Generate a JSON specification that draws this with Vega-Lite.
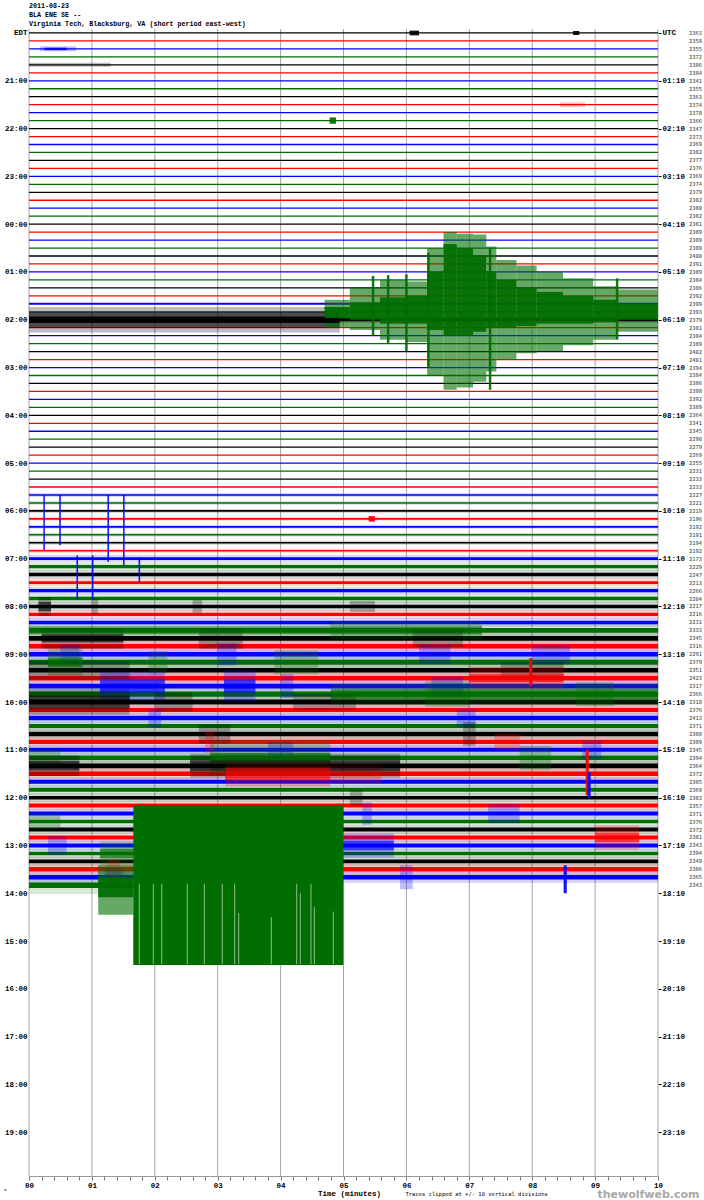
{
"$schema": "https://vega.github.io/schema/vega-lite/v6.json",
"width": 629, "height": 1147,
"autosize": {"type": "none"},
"padding": {"left": 29, "top": 29, "right": 46, "bottom": 24},
"background": "white",
"config": {"view": {"stroke": null}},
"title": {"text": ["2011-08-23", "BLA ENE SE --", "Virginia Tech, Blacksburg, VA (short period east-west)"], "anchor": "start", "frame": "group", "font": "Liberation Mono", "fontSize": 6.7, "fontWeight": "bold", "lineHeight": 9, "offset": 1, "color": "#000000"},
"datasets": {
"mins": [{"m":0},{"m":1},{"m":2},{"m":3},{"m":4},{"m":5},{"m":6},{"m":7},{"m":8},{"m":9},{"m":10}],
"traces": [
{"r":0,"n":"2363","c":"k","s":0,"e":10,"a0":-0.08,"a1":0.08},
{"r":1,"n":"2358","c":"r","s":0,"e":10,"a0":0.92,"a1":1.08},
{"r":2,"n":"2355","c":"b","s":0,"e":10,"a0":1.92,"a1":2.08},
{"r":3,"n":"2372","c":"g","s":0,"e":10,"a0":2.92,"a1":3.08},
{"r":4,"n":"2386","c":"k","s":0,"e":10,"a0":3.92,"a1":4.08},
{"r":5,"n":"2384","c":"r","s":0,"e":10,"a0":4.92,"a1":5.08},
{"r":6,"n":"2341","c":"b","s":0,"e":10,"a0":5.92,"a1":6.08},
{"r":7,"n":"2355","c":"g","s":0,"e":10,"a0":6.92,"a1":7.08},
{"r":8,"n":"2363","c":"k","s":0,"e":10,"a0":7.92,"a1":8.08},
{"r":9,"n":"2374","c":"r","s":0,"e":10,"a0":8.92,"a1":9.08},
{"r":10,"n":"2378","c":"b","s":0,"e":10,"a0":9.92,"a1":10.08},
{"r":11,"n":"2366","c":"g","s":0,"e":10,"a0":10.92,"a1":11.08},
{"r":12,"n":"2347","c":"k","s":0,"e":10,"a0":11.92,"a1":12.08},
{"r":13,"n":"2373","c":"r","s":0,"e":10,"a0":12.92,"a1":13.08},
{"r":14,"n":"2369","c":"b","s":0,"e":10,"a0":13.92,"a1":14.08},
{"r":15,"n":"2382","c":"g","s":0,"e":10,"a0":14.92,"a1":15.08},
{"r":16,"n":"2377","c":"k","s":0,"e":10,"a0":15.92,"a1":16.08},
{"r":17,"n":"2376","c":"r","s":0,"e":10,"a0":16.92,"a1":17.08},
{"r":18,"n":"2369","c":"b","s":0,"e":10,"a0":17.92,"a1":18.08},
{"r":19,"n":"2374","c":"g","s":0,"e":10,"a0":18.92,"a1":19.08},
{"r":20,"n":"2379","c":"k","s":0,"e":10,"a0":19.92,"a1":20.08},
{"r":21,"n":"2382","c":"r","s":0,"e":10,"a0":20.92,"a1":21.08},
{"r":22,"n":"2380","c":"b","s":0,"e":10,"a0":21.92,"a1":22.08},
{"r":23,"n":"2382","c":"g","s":0,"e":10,"a0":22.92,"a1":23.08},
{"r":24,"n":"2381","c":"k","s":0,"e":10,"a0":23.92,"a1":24.08},
{"r":25,"n":"2389","c":"r","s":0,"e":10,"a0":24.92,"a1":25.08},
{"r":26,"n":"2389","c":"b","s":0,"e":10,"a0":25.92,"a1":26.08},
{"r":27,"n":"2389","c":"g","s":0,"e":10,"a0":26.92,"a1":27.08},
{"r":28,"n":"2400","c":"k","s":0,"e":10,"a0":27.92,"a1":28.08},
{"r":29,"n":"2391","c":"r","s":0,"e":10,"a0":28.92,"a1":29.08},
{"r":30,"n":"2389","c":"b","s":0,"e":10,"a0":29.92,"a1":30.08},
{"r":31,"n":"2384","c":"g","s":0,"e":10,"a0":30.92,"a1":31.08},
{"r":32,"n":"2386","c":"k","s":0,"e":10,"a0":31.92,"a1":32.08},
{"r":33,"n":"2392","c":"r","s":0,"e":10,"a0":32.92,"a1":33.08},
{"r":34,"n":"2399","c":"b","s":0,"e":10,"a0":33.88,"a1":34.12},
{"r":35,"n":"2393","c":"g","s":0,"e":10,"a0":34.92,"a1":35.08},
{"r":36,"n":"2379","c":"k","s":0,"e":10,"a0":35.85,"a1":36.15},
{"r":37,"n":"2381","c":"r","s":0,"e":10,"a0":36.92,"a1":37.08},
{"r":38,"n":"2384","c":"b","s":0,"e":10,"a0":37.92,"a1":38.08},
{"r":39,"n":"2389","c":"g","s":0,"e":10,"a0":38.92,"a1":39.08},
{"r":40,"n":"2402","c":"k","s":0,"e":10,"a0":39.92,"a1":40.08},
{"r":41,"n":"2401","c":"r","s":0,"e":10,"a0":40.92,"a1":41.08},
{"r":42,"n":"2394","c":"b","s":0,"e":10,"a0":41.92,"a1":42.08},
{"r":43,"n":"2384","c":"g","s":0,"e":10,"a0":42.92,"a1":43.08},
{"r":44,"n":"2386","c":"k","s":0,"e":10,"a0":43.92,"a1":44.08},
{"r":45,"n":"2398","c":"r","s":0,"e":10,"a0":44.92,"a1":45.08},
{"r":46,"n":"2392","c":"b","s":0,"e":10,"a0":45.92,"a1":46.08},
{"r":47,"n":"2389","c":"g","s":0,"e":10,"a0":46.92,"a1":47.08},
{"r":48,"n":"2364","c":"k","s":0,"e":10,"a0":47.92,"a1":48.08},
{"r":49,"n":"2341","c":"r","s":0,"e":10,"a0":48.92,"a1":49.08},
{"r":50,"n":"2345","c":"b","s":0,"e":10,"a0":49.92,"a1":50.08},
{"r":51,"n":"2290","c":"g","s":0,"e":10,"a0":50.92,"a1":51.08},
{"r":52,"n":"2279","c":"k","s":0,"e":10,"a0":51.92,"a1":52.08},
{"r":53,"n":"2269","c":"r","s":0,"e":10,"a0":52.92,"a1":53.08},
{"r":54,"n":"2255","c":"b","s":0,"e":10,"a0":53.92,"a1":54.08},
{"r":55,"n":"2231","c":"g","s":0,"e":10,"a0":54.92,"a1":55.08},
{"r":56,"n":"2233","c":"k","s":0,"e":10,"a0":55.92,"a1":56.08},
{"r":57,"n":"2233","c":"r","s":0,"e":10,"a0":56.92,"a1":57.08},
{"r":58,"n":"2227","c":"b","s":0,"e":10,"a0":57.9,"a1":58.1,"h0":57.75,"h1":58.25},
{"r":59,"n":"2221","c":"g","s":0,"e":10,"a0":58.9,"a1":59.1,"h0":58.75,"h1":59.25},
{"r":60,"n":"2219","c":"k","s":0,"e":10,"a0":59.9,"a1":60.1,"h0":59.75,"h1":60.25},
{"r":61,"n":"2196","c":"r","s":0,"e":10,"a0":60.9,"a1":61.1,"h0":60.75,"h1":61.25},
{"r":62,"n":"2192","c":"b","s":0,"e":10,"a0":61.9,"a1":62.1,"h0":61.75,"h1":62.25},
{"r":63,"n":"2191","c":"g","s":0,"e":10,"a0":62.9,"a1":63.1,"h0":62.75,"h1":63.25},
{"r":64,"n":"2194","c":"k","s":0,"e":10,"a0":63.9,"a1":64.1,"h0":63.75,"h1":64.25},
{"r":65,"n":"2192","c":"r","s":0,"e":10,"a0":64.9,"a1":65.1,"h0":64.75,"h1":65.25},
{"r":66,"n":"2173","c":"b","s":0,"e":10,"a0":65.82,"a1":66.18,"h0":65.55,"h1":66.45},
{"r":67,"n":"2229","c":"g","s":0,"e":10,"a0":66.8,"a1":67.2,"h0":66.5,"h1":67.5},
{"r":68,"n":"2247","c":"k","s":0,"e":10,"a0":67.78,"a1":68.22,"h0":67.45,"h1":68.55},
{"r":69,"n":"2213","c":"r","s":0,"e":10,"a0":68.82,"a1":69.18,"h0":68.55,"h1":69.45},
{"r":70,"n":"2266","c":"b","s":0,"e":10,"a0":69.8,"a1":70.2,"h0":69.55,"h1":70.45},
{"r":71,"n":"2204","c":"g","s":0,"e":10,"a0":70.78,"a1":71.22,"h0":70.45,"h1":71.55},
{"r":72,"n":"2217","c":"k","s":0,"e":10,"a0":71.78,"a1":72.22,"h0":71.4,"h1":72.6},
{"r":73,"n":"2216","c":"r","s":0,"e":10,"a0":72.8,"a1":73.2,"h0":72.5,"h1":73.5},
{"r":74,"n":"2231","c":"b","s":0,"e":10,"a0":73.78,"a1":74.22,"h0":73.45,"h1":74.55},
{"r":75,"n":"2333","c":"g","s":0,"e":10,"a0":74.7,"a1":75.3,"h0":74.1,"h1":75.9},
{"r":76,"n":"2345","c":"k","s":0,"e":10,"a0":75.7,"a1":76.3,"h0":75.1,"h1":76.9},
{"r":77,"n":"2316","c":"r","s":0,"e":10,"a0":76.72,"a1":77.28,"h0":76.25,"h1":77.75},
{"r":78,"n":"2291","c":"b","s":0,"e":10,"a0":77.72,"a1":78.28,"h0":77.2,"h1":78.8},
{"r":79,"n":"2379","c":"g","s":0,"e":10,"a0":78.7,"a1":79.3,"h0":78.1,"h1":79.9},
{"r":80,"n":"2351","c":"k","s":0,"e":10,"a0":79.72,"a1":80.28,"h0":79.25,"h1":80.75},
{"r":81,"n":"2423","c":"r","s":0,"e":10,"a0":80.72,"a1":81.28,"h0":80.2,"h1":81.8},
{"r":82,"n":"2317","c":"b","s":0,"e":10,"a0":81.7,"a1":82.3,"h0":81.1,"h1":82.9},
{"r":83,"n":"2366","c":"g","s":0,"e":10,"a0":82.68,"a1":83.32,"h0":82.0,"h1":84.0},
{"r":84,"n":"2318","c":"k","s":0,"e":10,"a0":83.68,"a1":84.32,"h0":83.05,"h1":84.95},
{"r":85,"n":"2376","c":"r","s":0,"e":10,"a0":84.75,"a1":85.25,"h0":84.4,"h1":85.6},
{"r":86,"n":"2413","c":"b","s":0,"e":10,"a0":85.72,"a1":86.28,"h0":85.3,"h1":86.7},
{"r":87,"n":"2371","c":"g","s":0,"e":10,"a0":86.75,"a1":87.25,"h0":86.4,"h1":87.6},
{"r":88,"n":"2388","c":"k","s":0,"e":10,"a0":87.72,"a1":88.28,"h0":87.3,"h1":88.7},
{"r":89,"n":"2389","c":"r","s":0,"e":10,"a0":88.72,"a1":89.28,"h0":88.3,"h1":89.7},
{"r":90,"n":"2345","c":"b","s":0,"e":10,"a0":89.75,"a1":90.25,"h0":89.35,"h1":90.65},
{"r":91,"n":"2394","c":"g","s":0,"e":10,"a0":90.72,"a1":91.28,"h0":90.2,"h1":91.8},
{"r":92,"n":"2364","c":"k","s":0,"e":10,"a0":91.7,"a1":92.3,"h0":91.1,"h1":92.9},
{"r":93,"n":"2372","c":"r","s":0,"e":10,"a0":92.72,"a1":93.28,"h0":92.25,"h1":93.75},
{"r":94,"n":"2385","c":"b","s":0,"e":10,"a0":93.75,"a1":94.25,"h0":93.4,"h1":94.6},
{"r":95,"n":"2369","c":"g","s":0,"e":10,"a0":94.75,"a1":95.25,"h0":94.4,"h1":95.6},
{"r":96,"n":"2383","c":"k","s":0,"e":10,"a0":95.78,"a1":96.22,"h0":95.45,"h1":96.55},
{"r":97,"n":"2357","c":"r","s":0,"e":10,"a0":96.75,"a1":97.25,"h0":96.4,"h1":97.6},
{"r":98,"n":"2371","c":"b","s":0,"e":10,"a0":97.75,"a1":98.25,"h0":97.4,"h1":98.6},
{"r":99,"n":"2376","c":"g","s":0,"e":10,"a0":98.78,"a1":99.22,"h0":98.5,"h1":99.5},
{"r":100,"n":"2372","c":"k","s":0,"e":10,"a0":99.75,"a1":100.25,"h0":99.45,"h1":100.55},
{"r":101,"n":"2381","c":"r","s":0,"e":10,"a0":100.75,"a1":101.25,"h0":100.4,"h1":101.6},
{"r":102,"n":"2343","c":"b","s":0,"e":10,"a0":101.75,"a1":102.25,"h0":101.35,"h1":102.65},
{"r":103,"n":"2394","c":"g","s":0,"e":10,"a0":102.78,"a1":103.22,"h0":102.45,"h1":103.55},
{"r":104,"n":"2349","c":"k","s":0,"e":10,"a0":103.75,"a1":104.25,"h0":103.4,"h1":104.6},
{"r":105,"n":"2386","c":"r","s":0,"e":10,"a0":104.72,"a1":105.28,"h0":104.3,"h1":105.7},
{"r":106,"n":"2365","c":"b","s":0,"e":10,"a0":105.72,"a1":106.28,"h0":105.3,"h1":106.7},
{"r":107,"n":"2343","c":"g","s":0,"e":1.66,"a0":106.65,"a1":107.35,"h0":105.9,"h1":108.1}
],
"bursts": [
{"c":"k","x0":6.05,"x1":6.2,"y0":-0.3,"y1":0.3,"k":"core"},
{"c":"k","x0":8.65,"x1":8.75,"y0":-0.25,"y1":0.25,"k":"core"},
{"c":"b","x0":0.17,"x1":0.75,"y0":1.7,"y1":2.3,"k":"haze"},
{"c":"b","x0":0.25,"x1":0.6,"y0":1.85,"y1":2.15,"k":"core"},
{"c":"k","x0":0,"x1":1.3,"y0":3.75,"y1":4.25,"k":"haze"},
{"c":"r","x0":8.44,"x1":8.84,"y0":8.7,"y1":9.3,"k":"haze"},
{"c":"g","x0":4.78,"x1":4.88,"y0":10.6,"y1":11.4,"k":"core"},
{"c":"r","x0":5.4,"x1":5.5,"y0":60.65,"y1":61.35,"k":"core"},
{"c":"k","x0":0,"x1":4.94,"y0":34.4,"y1":37.6,"k":"haze"},
{"c":"k","x0":0,"x1":4.94,"y0":35.0,"y1":37.0,"k":"mid"},
{"c":"k","x0":0,"x1":4.94,"y0":35.6,"y1":36.4,"k":"core"},
{"c":"k","x0":4.94,"x1":10,"y0":35.6,"y1":36.4,"k":"haze"},
{"c":"k","x0":4.94,"x1":10,"y0":35.8,"y1":36.2,"k":"core"},
{"c":"g","x0":4.7,"x1":5.1,"y0":33.5,"y1":37.0,"k":"mid"},
{"c":"g","x0":4.7,"x1":5.1,"y0":34.4,"y1":35.8,"k":"core"},
{"c":"g","x0":5.1,"x1":5.58,"y0":32.0,"y1":37.3,"k":"mid"},
{"c":"g","x0":5.1,"x1":5.58,"y0":33.8,"y1":36.0,"k":"core"},
{"c":"g","x0":5.58,"x1":6.0,"y0":31.0,"y1":38.5,"k":"mid"},
{"c":"g","x0":5.58,"x1":6.0,"y0":33.2,"y1":36.5,"k":"core"},
{"c":"g","x0":6.0,"x1":6.33,"y0":31.2,"y1":38.8,"k":"mid"},
{"c":"g","x0":6.0,"x1":6.33,"y0":33.0,"y1":36.5,"k":"core"},
{"c":"g","x0":6.33,"x1":6.59,"y0":27.0,"y1":43.0,"k":"mid"},
{"c":"g","x0":6.33,"x1":6.59,"y0":30.0,"y1":37.3,"k":"core"},
{"c":"g","x0":6.59,"x1":6.8,"y0":25.0,"y1":44.8,"k":"mid"},
{"c":"g","x0":6.59,"x1":6.8,"y0":26.5,"y1":38.0,"k":"core"},
{"c":"g","x0":6.8,"x1":7.06,"y0":25.2,"y1":44.5,"k":"mid"},
{"c":"g","x0":6.8,"x1":7.06,"y0":27.0,"y1":38.0,"k":"core"},
{"c":"g","x0":7.06,"x1":7.27,"y0":25.3,"y1":43.8,"k":"mid"},
{"c":"g","x0":7.06,"x1":7.27,"y0":28.0,"y1":37.5,"k":"core"},
{"c":"g","x0":7.27,"x1":7.43,"y0":26.8,"y1":42.5,"k":"mid"},
{"c":"g","x0":7.27,"x1":7.43,"y0":30.0,"y1":37.0,"k":"core"},
{"c":"g","x0":7.43,"x1":7.75,"y0":28.5,"y1":41.0,"k":"mid"},
{"c":"g","x0":7.43,"x1":7.75,"y0":31.0,"y1":37.0,"k":"core"},
{"c":"g","x0":7.75,"x1":8.07,"y0":29.2,"y1":40.2,"k":"mid"},
{"c":"g","x0":7.75,"x1":8.07,"y0":32.0,"y1":36.8,"k":"core"},
{"c":"g","x0":8.07,"x1":8.49,"y0":30.0,"y1":40.0,"k":"mid"},
{"c":"g","x0":8.07,"x1":8.49,"y0":32.5,"y1":36.5,"k":"core"},
{"c":"g","x0":8.49,"x1":8.97,"y0":30.8,"y1":39.2,"k":"mid"},
{"c":"g","x0":8.49,"x1":8.97,"y0":33.0,"y1":36.5,"k":"core"},
{"c":"g","x0":8.97,"x1":9.34,"y0":31.8,"y1":38.5,"k":"mid"},
{"c":"g","x0":8.97,"x1":9.34,"y0":33.5,"y1":36.3,"k":"core"},
{"c":"g","x0":9.34,"x1":10,"y0":32.2,"y1":37.5,"k":"mid"},
{"c":"g","x0":9.34,"x1":10,"y0":34.0,"y1":36.0,"k":"core"},
{"c":"g","x0":5.45,"x1":5.49,"y0":30.5,"y1":38.0,"k":"core"},
{"c":"g","x0":5.69,"x1":5.73,"y0":30.4,"y1":39.0,"k":"core"},
{"c":"g","x0":5.98,"x1":6.02,"y0":30.3,"y1":40.0,"k":"core"},
{"c":"g","x0":6.33,"x1":6.37,"y0":27.6,"y1":42.0,"k":"core"},
{"c":"g","x0":7.31,"x1":7.35,"y0":27.0,"y1":44.8,"k":"core"},
{"c":"g","x0":9.33,"x1":9.37,"y0":30.8,"y1":38.5,"k":"core"},
{"c":"b","x0":0.228,"x1":0.252,"y0":58,"y1":64.9,"k":"core"},
{"c":"b","x0":0.48,"x1":0.505,"y0":58,"y1":64.3,"k":"core"},
{"c":"b","x0":1.247,"x1":1.272,"y0":58,"y1":66.4,"k":"core"},
{"c":"b","x0":1.495,"x1":1.52,"y0":58,"y1":66.8,"k":"core"},
{"c":"b","x0":0.755,"x1":0.78,"y0":65.6,"y1":71.1,"k":"core"},
{"c":"b","x0":1.0,"x1":1.025,"y0":65.6,"y1":71.2,"k":"core"},
{"c":"b","x0":1.742,"x1":1.767,"y0":65.8,"y1":68.9,"k":"core"},
{"c":"k","x0":0.15,"x1":0.35,"y0":70.8,"y1":73.2,"k":"haze"},
{"c":"k","x0":0.15,"x1":0.35,"y0":71.4,"y1":72.6,"k":"mid"},
{"c":"k","x0":1.0,"x1":1.1,"y0":71,"y1":73,"k":"haze"},
{"c":"k","x0":2.6,"x1":2.75,"y0":71.2,"y1":72.8,"k":"haze"},
{"c":"k","x0":5.1,"x1":5.5,"y0":71.3,"y1":72.7,"k":"haze"},
{"c":"g","x0":0,"x1":7.2,"y0":74.5,"y1":75.5,"k":"mid"},
{"c":"g","x0":4.79,"x1":7.2,"y0":73.9,"y1":76.1,"k":"haze"},
{"c":"k","x0":0.2,"x1":1.5,"y0":74.7,"y1":77.3,"k":"haze"},
{"c":"k","x0":0.2,"x1":1.5,"y0":75.5,"y1":76.5,"k":"mid"},
{"c":"k","x0":2.7,"x1":3.4,"y0":74.7,"y1":77.3,"k":"haze"},
{"c":"k","x0":6.1,"x1":6.9,"y0":74.9,"y1":77.1,"k":"haze"},
{"c":"b","x0":0.5,"x1":0.8,"y0":76.8,"y1":79.2,"k":"haze"},
{"c":"b","x0":3.0,"x1":3.3,"y0":76.6,"y1":79.4,"k":"haze"},
{"c":"b","x0":6.2,"x1":6.7,"y0":76.8,"y1":79.2,"k":"haze"},
{"c":"b","x0":8.0,"x1":8.6,"y0":76.8,"y1":79.2,"k":"haze"},
{"c":"g","x0":0.3,"x1":0.85,"y0":77.3,"y1":80.7,"k":"haze"},
{"c":"g","x0":0.3,"x1":0.85,"y0":78.4,"y1":79.6,"k":"mid"},
{"c":"g","x0":1.9,"x1":2.2,"y0":77.6,"y1":80.4,"k":"haze"},
{"c":"g","x0":3.9,"x1":4.6,"y0":77.5,"y1":80.5,"k":"haze"},
{"c":"k","x0":0,"x1":1.6,"y0":78.8,"y1":81.2,"k":"haze"},
{"c":"k","x0":7.5,"x1":8.5,"y0":79,"y1":81,"k":"haze"},
{"c":"r","x0":7.0,"x1":8.5,"y0":79.6,"y1":82.4,"k":"haze"},
{"c":"r","x0":7.0,"x1":8.5,"y0":80.5,"y1":81.5,"k":"mid"},
{"c":"r","x0":7.95,"x1":8.0,"y0":78.5,"y1":82,"k":"core"},
{"c":"b","x0":1.13,"x1":2.16,"y0":80.2,"y1":83.8,"k":"haze"},
{"c":"b","x0":1.13,"x1":2.16,"y0":81.2,"y1":82.8,"k":"mid"},
{"c":"b","x0":3.1,"x1":3.6,"y0":80,"y1":84,"k":"haze"},
{"c":"b","x0":3.1,"x1":3.6,"y0":81.2,"y1":82.8,"k":"mid"},
{"c":"b","x0":4.0,"x1":4.2,"y0":80.5,"y1":83.5,"k":"haze"},
{"c":"b","x0":6.4,"x1":6.9,"y0":80.8,"y1":83.2,"k":"haze"},
{"c":"g","x0":4.8,"x1":10,"y0":81.7,"y1":84.3,"k":"haze"},
{"c":"g","x0":4.8,"x1":10,"y0":82.4,"y1":83.6,"k":"mid"},
{"c":"g","x0":6.3,"x1":7.0,"y0":81.4,"y1":84.6,"k":"haze"},
{"c":"g","x0":8.7,"x1":9.3,"y0":81.5,"y1":84.5,"k":"haze"},
{"c":"k","x0":0,"x1":1.6,"y0":82.4,"y1":85.6,"k":"haze"},
{"c":"k","x0":0,"x1":1.6,"y0":83.2,"y1":84.8,"k":"mid"},
{"c":"k","x0":2.0,"x1":2.6,"y0":82.8,"y1":85.2,"k":"haze"},
{"c":"k","x0":4.2,"x1":5.2,"y0":83,"y1":85,"k":"haze"},
{"c":"b","x0":6.8,"x1":7.1,"y0":84.8,"y1":87.2,"k":"haze"},
{"c":"b","x0":1.9,"x1":2.1,"y0":84.8,"y1":87.2,"k":"haze"},
{"c":"k","x0":2.7,"x1":3.2,"y0":86.8,"y1":89.2,"k":"haze"},
{"c":"k","x0":6.9,"x1":7.1,"y0":86.5,"y1":89.5,"k":"haze"},
{"c":"r","x0":2.8,"x1":2.95,"y0":87.6,"y1":90.4,"k":"haze"},
{"c":"r","x0":7.4,"x1":7.8,"y0":88,"y1":90,"k":"haze"},
{"c":"b","x0":3.8,"x1":4.2,"y0":89,"y1":91,"k":"haze"},
{"c":"b","x0":8.8,"x1":9.1,"y0":88.8,"y1":91.2,"k":"haze"},
{"c":"g","x0":2.88,"x1":4.79,"y0":88.8,"y1":93.2,"k":"haze"},
{"c":"g","x0":2.88,"x1":4.79,"y0":90.4,"y1":91.6,"k":"mid"},
{"c":"g","x0":7.8,"x1":8.3,"y0":89.5,"y1":92.5,"k":"haze"},
{"c":"g","x0":0,"x1":0.5,"y0":90,"y1":92,"k":"haze"},
{"c":"k","x0":2.56,"x1":5.9,"y0":90.5,"y1":93.5,"k":"haze"},
{"c":"k","x0":2.56,"x1":5.9,"y0":91.3,"y1":92.7,"k":"mid"},
{"c":"k","x0":0,"x1":0.8,"y0":90.7,"y1":93.3,"k":"haze"},
{"c":"k","x0":0,"x1":0.8,"y0":91.4,"y1":92.6,"k":"mid"},
{"c":"r","x0":3.12,"x1":4.79,"y0":91.4,"y1":94.6,"k":"haze"},
{"c":"r","x0":3.12,"x1":4.79,"y0":92.2,"y1":93.8,"k":"mid"},
{"c":"r","x0":4.79,"x1":5.6,"y0":91.8,"y1":94.2,"k":"haze"},
{"c":"r","x0":8.85,"x1":8.9,"y0":90,"y1":95.7,"k":"core"},
{"c":"b","x0":8.88,"x1":8.93,"y0":92.8,"y1":96,"k":"core"},
{"c":"k","x0":5.1,"x1":5.3,"y0":95,"y1":97,"k":"haze"},
{"c":"b","x0":5.3,"x1":5.45,"y0":96.6,"y1":99.4,"k":"haze"},
{"c":"b","x0":7.3,"x1":7.8,"y0":96.8,"y1":99.2,"k":"haze"},
{"c":"g","x0":0,"x1":0.5,"y0":98,"y1":100,"k":"haze"},
{"c":"r","x0":9.0,"x1":9.7,"y0":99.5,"y1":102.5,"k":"haze"},
{"c":"r","x0":9.0,"x1":9.7,"y0":100.4,"y1":101.6,"k":"mid"},
{"c":"b","x0":5.0,"x1":5.8,"y0":100.5,"y1":103.5,"k":"haze"},
{"c":"b","x0":5.0,"x1":5.8,"y0":101.4,"y1":102.6,"k":"mid"},
{"c":"b","x0":0.3,"x1":0.6,"y0":100.8,"y1":103.2,"k":"haze"},
{"c":"g","x0":1.13,"x1":1.66,"y0":101.5,"y1":104.5,"k":"haze"},
{"c":"g","x0":1.13,"x1":1.66,"y0":102.4,"y1":103.6,"k":"mid"},
{"c":"r","x0":1.24,"x1":1.45,"y0":103.8,"y1":106.2,"k":"haze"},
{"c":"b","x0":1.2,"x1":1.5,"y0":104.8,"y1":107.2,"k":"haze"},
{"c":"b","x0":5.9,"x1":6.1,"y0":104.5,"y1":107.5,"k":"haze"},
{"c":"b","x0":8.5,"x1":8.55,"y0":104.5,"y1":108,"k":"core"},
{"c":"g","x0":1.1,"x1":1.66,"y0":104.5,"y1":110.7,"k":"mid"},
{"c":"g","x0":1.1,"x1":1.66,"y0":106,"y1":108.5,"k":"core"},
{"c":"g","x0":1.658,"x1":4.997,"y0":96.95,"y1":117,"k":"solid"}
],
"gaps": [
{"m":1.754,"y0":106.8,"y1":116.9},
{"m":1.976,"y0":106.8,"y1":116.9},
{"m":2.11,"y0":106.8,"y1":116.9},
{"m":2.517,"y0":106.8,"y1":116.9},
{"m":2.787,"y0":106.8,"y1":116.9},
{"m":3.073,"y0":106.8,"y1":116.9},
{"m":3.27,"y0":106.8,"y1":116.9},
{"m":3.334,"y0":110.5,"y1":116.9},
{"m":3.852,"y0":111,"y1":116.9},
{"m":4.256,"y0":106.8,"y1":116.9},
{"m":4.313,"y0":108,"y1":116.9},
{"m":4.483,"y0":106.8,"y1":116.9},
{"m":4.536,"y0":109.7,"y1":116.9},
{"m":4.838,"y0":110.3,"y1":116.9}
]
},
"layer": [
{
"data": {"name": "mins"},
"mark": {"type": "rule", "color": "#a6a6a6", "strokeWidth": 1},
"encoding": {
"x": {"field": "m", "type": "quantitative", "scale": {"domain": [0, 10], "nice": false, "zero": false},
"axis": {"orient": "bottom", "values": [0,0.2,0.4,0.6,0.8,1,1.2,1.4,1.6,1.8,2,2.2,2.4,2.6,2.8,3,3.2,3.4,3.6,3.8,4,4.2,4.4,4.6,4.8,5,5.2,5.4,5.6,5.8,6,6.2,6.4,6.6,6.8,7,7.2,7.4,7.6,7.8,8,8.2,8.4,8.6,8.8,9,9.2,9.4,9.6,9.8,10],
"labelExpr": "datum.value % 1 == 0 ? format(datum.value, '02d') : ''", "labelFlush": false, "labelOverlap": false,
"labelFont": "Liberation Mono", "labelFontSize": 7.5, "labelFontWeight": "bold", "labelColor": "#000000", "labelPadding": 1,
"tickSize": 4, "tickColor": "#777777", "domainColor": "#999999", "grid": false,
"title": "Time (minutes)", "titleFont": "Liberation Mono", "titleFontSize": 7.5, "titleFontWeight": "bold", "titleColor": "#000000",
"titleX": 320, "titleY": 17, "titleAlign": "center", "titleBaseline": "middle"}}
}
},
{
"data": {"name": "traces"},
"transform": [{"filter": "isValid(datum.h0)"}],
"mark": {"type": "rect", "opacity": 0.16},
"encoding": {
"x": {"field": "s", "type": "quantitative", "scale": {"domain": [0, 10], "nice": false, "zero": false}, "axis": null},
"x2": {"field": "e"},
"y": {"field": "h0", "type": "quantitative", "scale": {"domain": [-0.5, 143.5], "reverse": true, "nice": false, "zero": false},
"axis": {"orient": "left", "values": [0,6,12,18,24,30,36,42,48,54,60,66,72,78,84,90,96,102,108,114,120,126,132,138],
"labelExpr": "datum.value == 0 ? 'EDT' : format((20 + datum.value / 6) % 24, '02d') + ':00'",
"labelFont": "Liberation Mono", "labelFontSize": 7.5, "labelFontWeight": "bold", "labelColor": "#000000", "labelPadding": 2,
"tickSize": 0, "domain": false, "grid": false,
"title": "*", "titleAngle": 0, "titleX": -24, "titleY": 1164, "titleFontSize": 6, "titleFontWeight": "normal", "titleColor": "#000000"}},
"y2": {"field": "h1"},
"color": {"field": "c", "type": "nominal", "scale": {"domain": ["k", "r", "b", "g"], "range": ["#000000", "#ff0000", "#0000ff", "#006e00"]}, "legend": null}
}
},
{
"data": {"name": "traces"},
"mark": {"type": "rect"},
"encoding": {
"x": {"field": "s", "type": "quantitative", "scale": {"domain": [0, 10], "nice": false, "zero": false}, "axis": null},
"x2": {"field": "e"},
"y": {"field": "a0", "type": "quantitative", "scale": {"domain": [-0.5, 143.5], "reverse": true, "nice": false, "zero": false}, "axis": null},
"y2": {"field": "a1"},
"color": {"field": "c", "type": "nominal", "scale": {"domain": ["k", "r", "b", "g"], "range": ["#000000", "#ff0000", "#0000ff", "#006e00"]}, "legend": null}
}
},
{
"data": {"name": "bursts"},
"transform": [{"filter": "datum.k == 'haze'"}],
"mark": {"type": "rect", "opacity": 0.26},
"encoding": {
"x": {"field": "x0", "type": "quantitative", "scale": {"domain": [0, 10], "nice": false, "zero": false}, "axis": null},
"x2": {"field": "x1"},
"y": {"field": "y0", "type": "quantitative", "scale": {"domain": [-0.5, 143.5], "reverse": true, "nice": false, "zero": false}, "axis": null},
"y2": {"field": "y1"},
"color": {"field": "c", "type": "nominal", "scale": {"domain": ["k", "r", "b", "g"], "range": ["#000000", "#ff0000", "#0000ff", "#006e00"]}, "legend": null}
}
},
{
"data": {"name": "bursts"},
"transform": [{"filter": "datum.k == 'mid'"}],
"mark": {"type": "rect", "opacity": 0.6},
"encoding": {
"x": {"field": "x0", "type": "quantitative", "scale": {"domain": [0, 10], "nice": false, "zero": false}, "axis": null},
"x2": {"field": "x1"},
"y": {"field": "y0", "type": "quantitative", "scale": {"domain": [-0.5, 143.5], "reverse": true, "nice": false, "zero": false}, "axis": null},
"y2": {"field": "y1"},
"color": {"field": "c", "type": "nominal", "scale": {"domain": ["k", "r", "b", "g"], "range": ["#000000", "#ff0000", "#0000ff", "#006e00"]}, "legend": null}
}
},
{
"data": {"name": "bursts"},
"transform": [{"filter": "datum.k == 'core'"}],
"mark": {"type": "rect", "opacity": 0.92},
"encoding": {
"x": {"field": "x0", "type": "quantitative", "scale": {"domain": [0, 10], "nice": false, "zero": false}, "axis": null},
"x2": {"field": "x1"},
"y": {"field": "y0", "type": "quantitative", "scale": {"domain": [-0.5, 143.5], "reverse": true, "nice": false, "zero": false}, "axis": null},
"y2": {"field": "y1"},
"color": {"field": "c", "type": "nominal", "scale": {"domain": ["k", "r", "b", "g"], "range": ["#000000", "#ff0000", "#0000ff", "#006e00"]}, "legend": null}
}
},
{
"data": {"name": "bursts"},
"transform": [{"filter": "datum.k == 'solid'"}],
"mark": {"type": "rect", "opacity": 1},
"encoding": {
"x": {"field": "x0", "type": "quantitative", "scale": {"domain": [0, 10], "nice": false, "zero": false}, "axis": null},
"x2": {"field": "x1"},
"y": {"field": "y0", "type": "quantitative", "scale": {"domain": [-0.5, 143.5], "reverse": true, "nice": false, "zero": false}, "axis": null},
"y2": {"field": "y1"},
"color": {"field": "c", "type": "nominal", "scale": {"domain": ["k", "r", "b", "g"], "range": ["#000000", "#ff0000", "#0000ff", "#006e00"]}, "legend": null}
}
},
{
"data": {"name": "gaps"},
"mark": {"type": "rule", "color": "#ffffff", "opacity": 0.55, "strokeWidth": 1},
"encoding": {
"x": {"field": "m", "type": "quantitative", "scale": {"domain": [0, 10], "nice": false, "zero": false},
"axis": {"orient": "bottom", "labels": false, "ticks": false, "domain": false, "grid": false,
"title": "Traces clipped at +/- 10 vertical divisions", "titleFont": "DejaVu Sans Mono", "titleFontSize": 5.5, "titleFontWeight": "normal", "titleColor": "#000000",
"titleX": 376, "titleY": 17, "titleAlign": "left", "titleBaseline": "middle"}},
"y": {"field": "y0", "type": "quantitative", "scale": {"domain": [-0.5, 143.5], "reverse": true, "nice": false, "zero": false}, "axis": null},
"y2": {"field": "y1"}
}
},
{
"data": {"name": "traces"},
"mark": {"type": "text", "align": "left", "baseline": "middle", "dx": 31, "font": "DejaVu Sans Mono", "fontSize": 5.4, "color": "#333333"},
"encoding": {
"x": {"datum": 10, "type": "quantitative", "scale": {"domain": [0, 10], "nice": false, "zero": false}, "axis": null},
"y": {"field": "r", "type": "quantitative", "scale": {"domain": [-0.5, 143.5], "reverse": true, "nice": false, "zero": false},
"axis": {"orient": "right", "values": [0,6,12,18,24,30,36,42,48,54,60,66,72,78,84,90,96,102,108,114,120,126,132,138],
"labelExpr": "datum.value == 0 ? 'UTC' : format((datum.value / 6) % 24, '02d') + ':10'",
"labelFont": "Liberation Mono", "labelFontSize": 7.5, "labelFontWeight": "bold", "labelColor": "#000000", "labelPadding": 1,
"tickSize": 3, "tickColor": "#000000", "domain": false, "grid": false,
"title": "thewolfweb.com", "titleAngle": 0, "titleX": -10, "titleY": 1165, "titleAlign": "center", "titleBaseline": "middle",
"titleFont": "DejaVu Sans", "titleFontSize": 11, "titleFontWeight": "bold", "titleColor": "#a8a8a8"}},
"text": {"field": "n"}
}
}
],
"resolve": {"axis": {"x": "independent", "y": "independent"}}
}
